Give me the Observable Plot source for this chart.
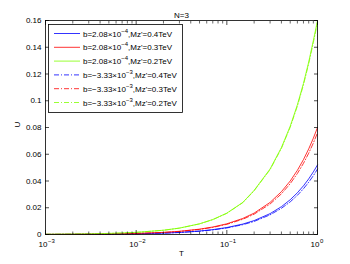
<!DOCTYPE html>
<html>
<head>
<meta charset="utf-8">
<script src="https://cdn.jsdelivr.net/npm/d3@7"></script>
<script src="https://cdn.jsdelivr.net/npm/@observablehq/plot@0.6"></script>
<style>
  html, body { margin: 0; padding: 0; background: #fff; }
  #chart { width: 350px; height: 264px; }
</style>
</head>
<body>
<div id="chart"></div>
<script>
// ---- data ----
const T = [0.001, 0.002, 0.003, 0.005, 0.007, 0.01, 0.02, 0.03, 0.05, 0.07, 0.1, 0.15, 0.2, 0.3, 0.4, 0.5, 0.6, 0.7, 0.8, 0.9, 1.0];
const blueSolid  = [0.000052, 0.000104, 0.000156, 0.00026, 0.000364, 0.00052, 0.00104, 0.00156, 0.0026, 0.00364, 0.0052, 0.0078, 0.0104, 0.0156, 0.0208, 0.026, 0.0312, 0.0364, 0.0416, 0.0468, 0.052];
const redSolid   = [0.00008, 0.00016, 0.00024, 0.0004, 0.00056, 0.0008, 0.0016, 0.0024, 0.004, 0.0056, 0.008, 0.012, 0.016, 0.024, 0.032, 0.040, 0.048, 0.056, 0.064, 0.072, 0.080];
const greenSolid = [0.00016, 0.00032, 0.00048, 0.0008, 0.00112, 0.0016, 0.0032, 0.0048, 0.008, 0.0112, 0.016, 0.024, 0.033, 0.049, 0.065, 0.081, 0.097, 0.113, 0.129, 0.145, 0.160];
const blueDash   = [0.000049, 0.000098, 0.000147, 0.000244, 0.000342, 0.000489, 0.00098, 0.00147, 0.00244, 0.00342, 0.00489, 0.00733, 0.00978, 0.0147, 0.0196, 0.0244, 0.0293, 0.0342, 0.0391, 0.044, 0.0489];
const redDash    = [0.000076, 0.000152, 0.000228, 0.00038, 0.000532, 0.00076, 0.00152, 0.00228, 0.0038, 0.00532, 0.0076, 0.0114, 0.0152, 0.0228, 0.0304, 0.038, 0.0456, 0.0532, 0.0608, 0.0684, 0.076];
const greenDash  = [0.000158, 0.000317, 0.000475, 0.000792, 0.00111, 0.00158, 0.00317, 0.00475, 0.00792, 0.0111, 0.0158, 0.0238, 0.0327, 0.0485, 0.0644, 0.0802, 0.096, 0.1119, 0.1277, 0.1436, 0.1584];

const seriesNames = [
  {b: "2.08×10", e: "−4", m: "0.4"},
  {b: "2.08×10", e: "−4", m: "0.3"},
  {b: "2.08×10", e: "−4", m: "0.2"},
  {b: "−3.33×10", e: "−3", m: "0.4"},
  {b: "−3.33×10", e: "−3", m: "0.3"},
  {b: "−3.33×10", e: "−3", m: "0.2"}
];
const seriesValues = [blueSolid, redSolid, greenSolid, blueDash, redDash, greenDash];
const seriesColors = ["#0000ff", "#ff0000", "#80ff00", "#0000ff", "#ff0000", "#80ff00"];
const seriesDash = [null, null, null, "5,2,1,2", "5,2,1,2", "5,2,1,2"];

const xMajor = [0.001, 0.01, 0.1, 1];
const xExp = ["−3", "−2", "−1", "0"];
const xMinor = [0.002,0.003,0.004,0.005,0.006,0.007,0.008,0.009,0.02,0.03,0.04,0.05,0.06,0.07,0.08,0.09,0.2,0.3,0.4,0.5,0.6,0.7,0.8,0.9];
const yTicks = [0, 0.02, 0.04, 0.06, 0.08, 0.1, 0.12, 0.14, 0.16];
const yTickLabels = ["0", "0.02", "0.04", "0.06", "0.08", "0.1", "0.12", "0.14", "0.16"];

// ---- build ----
const rows = [];
seriesValues.forEach((vals, s) => vals.forEach((v, i) => rows.push({s, T: T[i], U: v})));

const font = "'Liberation Sans', Arial, Helvetica, sans-serif";
const lineMarks = seriesValues.map((vals, s) =>
  Plot.line(rows.filter(r => r.s === s), {
    x: "T", y: "U", stroke: seriesColors[s], strokeWidth: 0.8,
    strokeDasharray: seriesDash[s] || undefined
  })
);

const plot = Plot.plot({
  width: 350, height: 264,
  marginLeft: 45, marginRight: 33, marginTop: 20, marginBottom: 30,
  style: {fontFamily: font, fontSize: "8px", background: "#fff", color: "#000"},
  x: {type: "log", domain: [0.001, 1]},
  y: {domain: [0, 0.16]},
  marks: [
    ...lineMarks,
    Plot.frame({stroke: "#000", strokeWidth: 0.8}),
    Plot.axisY({ticks: yTicks, tickSize: -4, tickFormat: () => "", label: null, strokeWidth: 0.7}),
    Plot.axisY({ticks: yTicks, anchor: "right", tickSize: -4, tickFormat: () => "", label: null, strokeWidth: 0.7}),
    Plot.axisY({ticks: yTicks, tickSize: 0, tickPadding: 4, tickFormat: (d) => yTickLabels[yTicks.indexOf(d)], label: null}),
    Plot.axisX({ticks: xMajor, tickSize: -4, tickFormat: () => "", label: null, strokeWidth: 0.7}),
    Plot.axisX({ticks: xMajor, anchor: "top", tickSize: -4, tickFormat: () => "", label: null, strokeWidth: 0.7}),
    Plot.axisX({ticks: xMinor, tickSize: -2.5, tickFormat: () => "", label: null, strokeWidth: 0.6}),
    Plot.axisX({ticks: xMinor, anchor: "top", tickSize: -2.5, tickFormat: () => "", label: null, strokeWidth: 0.6}),
    Plot.text(xMajor, {x: d => d, frameAnchor: "bottom", dy: 12, dx: 2, text: () => "10", textAnchor: "end", fontSize: 8}),
    Plot.text(xMajor, {x: d => d, frameAnchor: "bottom", dy: 8, dx: 2.5, text: (d, i) => xExp[i], textAnchor: "start", fontSize: 6}),
    Plot.text(["N=3"], {frameAnchor: "top", dy: -8, fontSize: 8}),
    Plot.text(["T"], {frameAnchor: "bottom", dy: 21, fontSize: 8}),
    Plot.text(["U"], {frameAnchor: "left", dx: -28, rotate: -90, fontSize: 8})
  ]
});
document.getElementById("chart").appendChild(plot);

// ---- legend ----
const svg = d3.select(plot);
const lg = svg.append("g").attr("font-family", font).attr("font-size", 8).attr("text-anchor", "start");
lg.append("rect").attr("x", 48.5).attr("y", 24.5).attr("width", 134).attr("height", 88)
  .attr("fill", "#fff").attr("stroke", "#000").attr("stroke-width", 0.8);
seriesNames.forEach((n, i) => {
  const y = 33.5 + i * 13.8;
  lg.append("line").attr("x1", 54).attr("x2", 80).attr("y1", y).attr("y2", y)
    .attr("stroke", seriesColors[i]).attr("stroke-width", 0.8)
    .attr("stroke-dasharray", seriesDash[i]);
  const t = lg.append("text").attr("x", 83).attr("y", y + 3).attr("text-anchor", "start");
  t.append("tspan").text("b=" + n.b);
  t.append("tspan").attr("dy", -4).attr("font-size", 6).text(n.e);
  t.append("tspan").attr("dy", 4).text(",Mz'=" + n.m + "TeV");
});
</script>
</body>
</html>
